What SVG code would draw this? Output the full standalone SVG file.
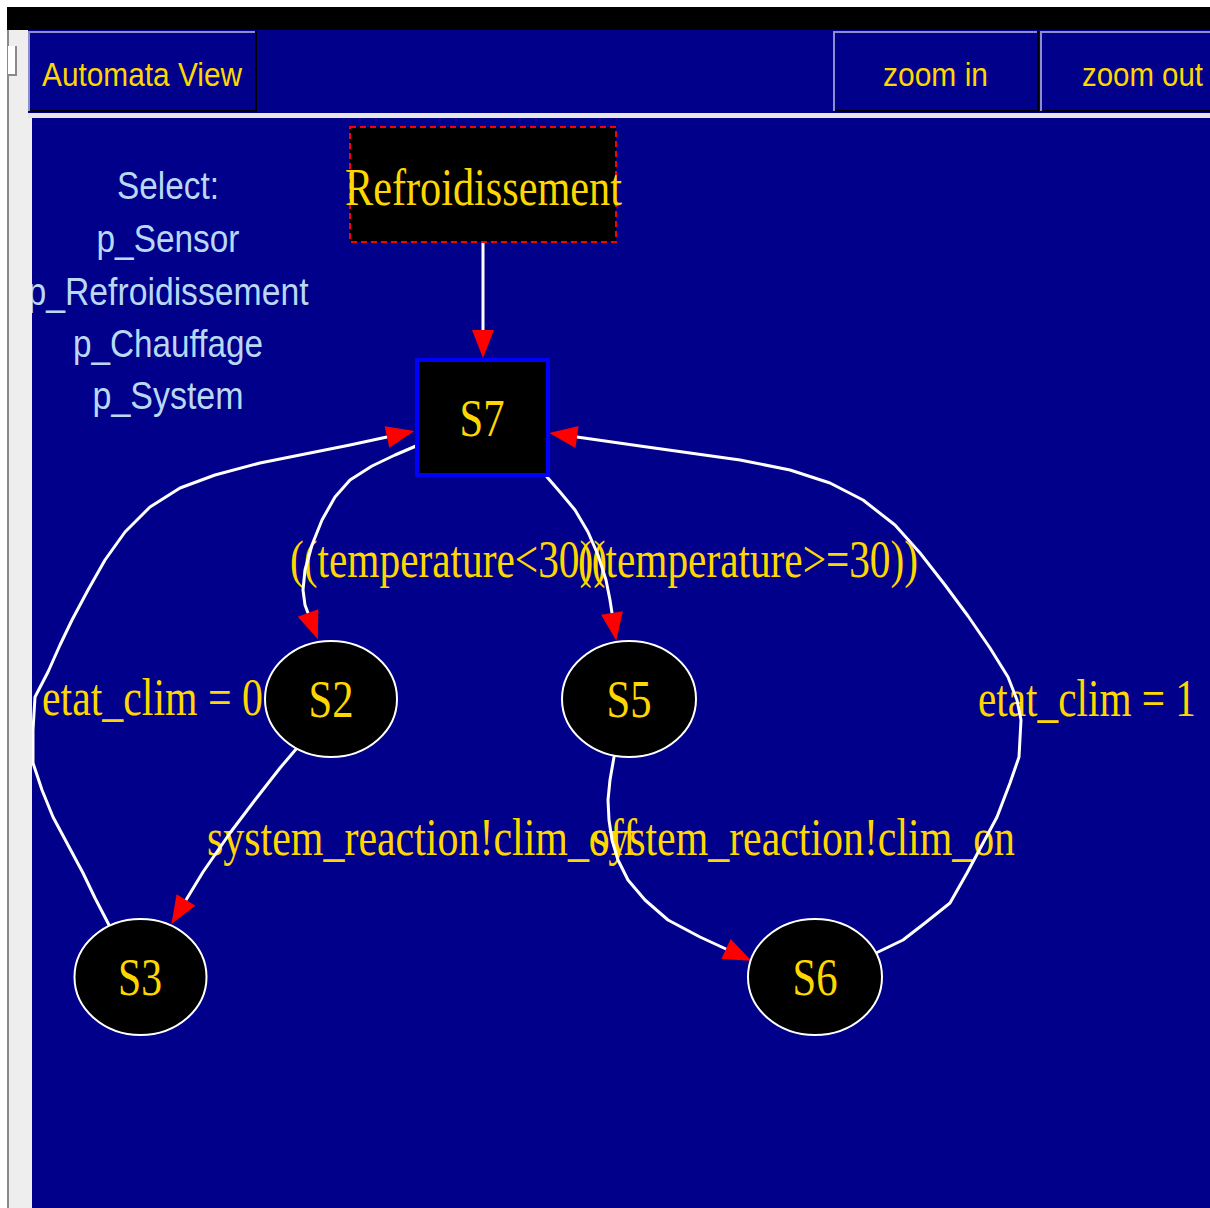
<svg xmlns="http://www.w3.org/2000/svg" width="1210" height="1208" viewBox="0 0 1210 1208">
  <defs>
    <style>
      .navy { fill: #00008b; }
      .btn-label { font-family: "Liberation Sans", Arial, sans-serif; font-size: 33px; fill: #ffd700; }
      .select { font-family: "Liberation Sans", Arial, sans-serif; font-size: 39px; fill: #b8d8f4; text-anchor: middle; }
      .lbl { font-family: "Liberation Serif", "Times New Roman", serif; font-size: 52px; fill: #ffd700; }
      .node-lbl { font-family: "Liberation Serif", "Times New Roman", serif; font-size: 52px; fill: #ffd700; text-anchor: middle; }
      .edge { fill: none; stroke: #ffffff; stroke-width: 3; stroke-linejoin: round; stroke-linecap: round; marker-end: url(#arrow); }
      .state { fill: #000000; stroke: #ffffff; stroke-width: 2; }
      .hi { stroke: #8c8cd0; stroke-width: 2; }
      .lo { stroke: #000000; stroke-width: 2; }
    </style>
    <marker id="arrow" markerUnits="userSpaceOnUse" markerWidth="30" markerHeight="24" refX="0" refY="11" orient="auto" overflow="visible">
      <path d="M0,0 L28,11 L0,22 Z" fill="#ff0000"/>
    </marker>
    <clipPath id="canvasClip">
      <rect x="32" y="118" width="1178" height="1090"/>
    </clipPath>
  </defs>

  <!-- window chrome -->
  <rect x="0" y="0" width="1210" height="1208" fill="#ffffff"/>
  <rect x="7" y="7" width="1203" height="23" fill="#000000"/>
  <rect x="7" y="30" width="25" height="1178" fill="#eeeeee"/>
  <line x1="8" y1="30" x2="8" y2="1208" stroke="#8a8a8a" stroke-width="2"/>
  <g id="side-tab">
    <rect x="8" y="46" width="9" height="29" fill="#ffffff"/>
    <path d="M16,46 V75 H8" fill="none" stroke="#8a8a8a" stroke-width="2"/>
  </g>

  <!-- toolbar -->
  <rect class="navy" x="28" y="30" width="1182" height="83"/>
  <rect x="28" y="113" width="1182" height="5" fill="#e6e6e6"/>
  <g id="btn-automata-view">
    <path class="lo" d="M29,111 H256 V31" fill="none"/>
    <path class="hi" d="M29,111 V32 H255" fill="none"/>
    <text class="btn-label" x="42" y="86" textLength="200" lengthAdjust="spacingAndGlyphs">Automata View</text>
  </g>
  <g id="btn-zoom-in">
    <path class="lo" d="M834,111 H1038 V31" fill="none"/>
    <path class="hi" d="M834,111 V32 H1037" fill="none"/>
    <text class="btn-label" x="883" y="86" textLength="105" lengthAdjust="spacingAndGlyphs">zoom in</text>
  </g>
  <g id="btn-zoom-out">
    <path class="lo" d="M1041,111 H1210" fill="none"/>
    <path class="hi" d="M1041,111 V32 H1210" fill="none"/>
    <text class="btn-label" x="1082" y="86" textLength="121" lengthAdjust="spacingAndGlyphs">zoom out</text>
  </g>

  <!-- automaton canvas -->
  <g clip-path="url(#canvasClip)">
    <rect class="navy" x="32" y="118" width="1178" height="1090"/>

    <g id="select-list">
      <text class="select" x="168" y="199" textLength="102" lengthAdjust="spacingAndGlyphs">Select:</text>
      <text class="select" x="168" y="252" textLength="143" lengthAdjust="spacingAndGlyphs">p_Sensor</text>
      <text class="select" x="168" y="305" textLength="281" lengthAdjust="spacingAndGlyphs">p_Refroidissement</text>
      <text class="select" x="168" y="357" textLength="190" lengthAdjust="spacingAndGlyphs">p_Chauffage</text>
      <text class="select" x="168" y="409" textLength="151" lengthAdjust="spacingAndGlyphs">p_System</text>
    </g>

    <g id="connectors">
      <!-- transition labels -->
      <text class="lbl" x="290" y="577" textLength="317" lengthAdjust="spacingAndGlyphs">((temperature&lt;30))</text>
      <text class="lbl" x="578" y="577" textLength="340" lengthAdjust="spacingAndGlyphs">((temperature&gt;=30))</text>
      <text class="lbl" x="42" y="715" textLength="221" lengthAdjust="spacingAndGlyphs">etat_clim = 0</text>
      <text class="lbl" x="978" y="716" textLength="218" lengthAdjust="spacingAndGlyphs">etat_clim = 1</text>
      <text class="lbl" x="207" y="855" textLength="430" lengthAdjust="spacingAndGlyphs">system_reaction!clim_off</text>
      <text class="lbl" x="592" y="855" textLength="423" lengthAdjust="spacingAndGlyphs">system_reaction!clim_on</text>

      <!-- Refroidissement -> S7 -->
      <path class="edge" d="M483,243 L483,330"/>
      <!-- S7 -> S2 -->
      <path class="edge" d="M416,446 L395,455 L372,466 L350,480 L335,497 L322,520 L312,545 L305,570 L303,590 L305,605 L308,613"/>
      <!-- S7 -> S5 -->
      <path class="edge" d="M547,477 L560,492 L575,510 L588,532 L598,555 L606,580 L610,600 L612,613"/>
      <!-- S2 -> S3 -->
      <path class="edge" d="M297,748 L280,768 L255,800 L230,833 L203,872 L186,900"/>
      <!-- S5 -> S6 -->
      <path class="edge" d="M614,757 L610,780 L608,800 L609,820 L612,840 L618,860 L628,880 L645,900 L668,920 L700,937 L726,949"/>
      <!-- S3 -> S7 -->
      <path class="edge" d="M109,925 L95,898 L83,873 L68,845 L53,817 L42,790 L33,763 L33,730 L35,697 L48,672 L60,645 L72,620 L88,590 L105,560 L125,532 L150,507 L180,488 L215,475 L260,463 L310,453 L350,445 L387,437"/>
      <!-- S6 -> S7 -->
      <path class="edge" d="M876,953 L903,940 L925,923 L950,903 L967,873 L982,845 L997,817 L1010,783 L1019,757 L1021,720 L1017,700 L1008,677 L990,648 L968,616 L945,585 L920,553 L895,525 L863,500 L830,483 L790,470 L740,460 L690,453 L640,446 L605,441 L577,437"/>
    </g>

    <g id="node-refroidissement">
      <rect x="350" y="127" width="266" height="115" fill="#000000" stroke="#ff0000" stroke-width="2" stroke-dasharray="6 4"/>
      <text class="node-lbl" x="483.5" y="205" textLength="277" lengthAdjust="spacingAndGlyphs">Refroidissement</text>
    </g>
    <g id="node-S7">
      <rect x="417" y="360" width="131" height="115" fill="#000000" stroke="#0000ff" stroke-width="4"/>
      <text class="node-lbl" x="482" y="436" textLength="45" lengthAdjust="spacingAndGlyphs">S7</text>
    </g>
    <g id="node-S2">
      <ellipse class="state" cx="331" cy="699" rx="66" ry="58"/>
      <text class="node-lbl" x="331" y="717" textLength="45" lengthAdjust="spacingAndGlyphs">S2</text>
    </g>
    <g id="node-S5">
      <ellipse class="state" cx="629" cy="699" rx="67" ry="58"/>
      <text class="node-lbl" x="629" y="717" textLength="45" lengthAdjust="spacingAndGlyphs">S5</text>
    </g>
    <g id="node-S3">
      <ellipse class="state" cx="140.5" cy="977" rx="66" ry="58"/>
      <text class="node-lbl" x="140" y="995" textLength="44" lengthAdjust="spacingAndGlyphs">S3</text>
    </g>
    <g id="node-S6">
      <ellipse class="state" cx="815" cy="977" rx="67" ry="58"/>
      <text class="node-lbl" x="815" y="995" textLength="45" lengthAdjust="spacingAndGlyphs">S6</text>
    </g>
  </g>
</svg>
